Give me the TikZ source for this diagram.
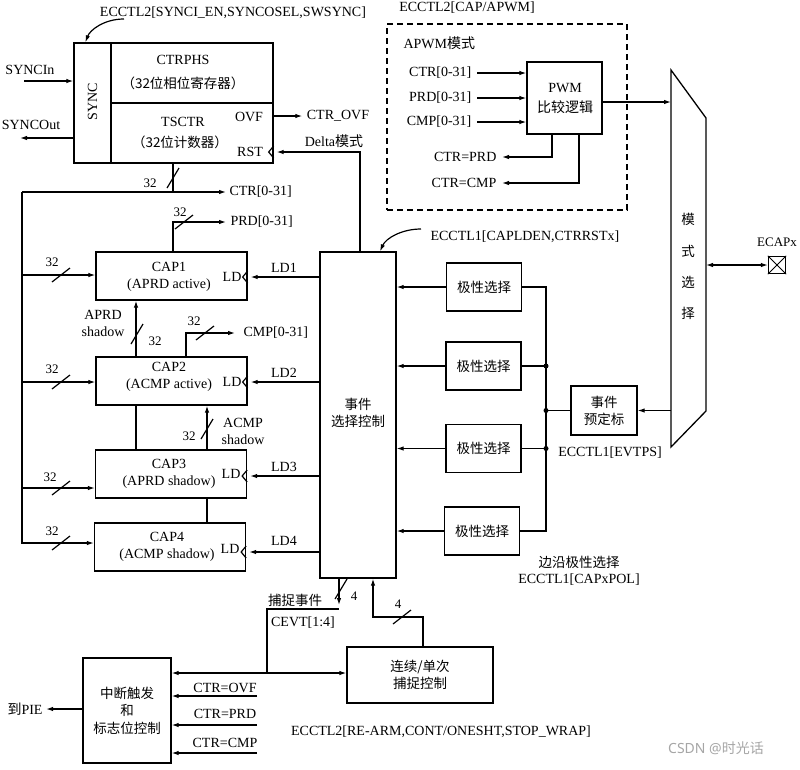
\documentclass[tikz,border=0pt]{standalone}
\usepackage{fontspec}
\setmainfont{Liberation Serif}
\newfontfamily\cjk{Noto Sans CJK SC}
\newfontfamily\wmfont{Noto Sans}
\usetikzlibrary{arrows.meta}
\newcommand{\zh}[1]{{\cjk #1}}
\newcommand{\hsl}[1]{\draw (#1) ++(-9,7) -- ++(18,-14);}
\newcommand{\vsl}[1]{\draw (#1) ++(-6,10) -- ++(12,-20);}
\newcommand{\notch}[1]{\draw (#1) ++(0,-6) -- ++(-5,6) -- ++(5,6);}
\begin{document}
\begin{tikzpicture}[x=1pt,y=-1pt, line width=1.2pt,
  box/.style={draw, inner sep=0pt, line width=1.3pt},
  lbl/.style={inner sep=0pt, font=\fontsize{14}{17}\selectfont, align=center},
  zhl/.style={inner sep=0pt, font=\cjk\fontsize{13.5}{17}\selectfont, align=center},
  num/.style={inner sep=0pt, font=\fontsize{13}{15}\selectfont},
  arr/.style={-{Latex[length=7pt,width=4.5pt]}},
  dot/.style={circle, fill, inner sep=0pt, minimum size=5pt}]
\useasboundingbox (0,0) rectangle (800,769);

% ---------------- SYNC / counter block
\node[box, minimum width=37pt, minimum height=120pt] (sync) at (92.5,103) {};
\node[lbl, rotate=90] (synct) at (92.5,102) {SYNC};
\node[box, minimum width=162pt, minimum height=60pt] (ctrphs) at (192,73) {};
\node[lbl] (ctrphst) at (183,60) {CTRPHS};
\node[zhl] (ctrphsz) at (183,83) {（32位相位寄存器）};
\node[box, minimum width=162pt, minimum height=60pt] (tsctr) at (192,133) {};
\node[lbl] (tsctrt) at (183,122) {TSCTR};
\node[zhl] (tsctrz) at (180,142) {（32位计数器）};
\node[lbl] (ovf) at (249,117) {OVF};
\node[lbl] (rst) at (250,152) {RST};
\notch{tsctr.east |- rst}

\node[lbl] (syncin) at (30,70) {SYNCIn};
\coordinate (sinS) at (24,81);
\draw[arr] (sinS) -- (sinS -| sync.west);
\node[lbl] (syncout) at (31,125) {SYNCOut};
\coordinate (soutE) at (20,138);
\draw[arr] (soutE -| sync.west) -- (soutE);

\node[lbl] (ec2s) at (233,13) {ECCTL2[SYNCI\_EN,SYNCOSEL,SWSYNC]};
\coordinate (ec2sA) at (124,19);
\draw[arr] (ec2sA) .. controls (104,19) and (90,30) .. ([xshift=12pt]sync.north west);

\node[lbl] (ctrovf) at (338,116) {CTR\_OVF};
\draw[arr] (tsctr.east |- ctrovf.west) -- ([xshift=-4pt]ctrovf.west);
\node[lbl] (delta) at (334,141) {Delta\zh{模式}};

% ---------------- CAP registers
\node[box, minimum width=151pt, minimum height=48pt] (cap1) at (171.5,276) {};
\node[box, minimum width=151pt, minimum height=48pt] (cap2) at (171.5,381) {};
\node[box, minimum width=151pt, minimum height=48pt] (cap3) at (171,474) {};
\node[box, minimum width=151pt, minimum height=48pt] (cap4) at (170,547) {};
\node[lbl] (cap1t) at (169,276.5) {CAP1\\(APRD active)};
\node[lbl] (cap2t) at (169,376.5) {CAP2\\(ACMP active)};
\node[lbl] (cap3t) at (169,474) {CAP3\\(APRD shadow)};
\node[lbl] (cap4t) at (167,547) {CAP4\\(ACMP shadow)};
\node[lbl, anchor=east] (ld1t) at (242,277) {LD};
\node[lbl, anchor=east] (ld2t) at (242,382) {LD};
\node[lbl, anchor=east] (ld3t) at (241,474) {LD};
\node[lbl, anchor=east] (ld4t) at (240,549) {LD};
\notch{cap1.east |- 0,277}
\notch{cap2.east |- 0,382}
\notch{cap3.east |- 0,476}
\notch{cap4.east |- 0,552}

% ---------------- event select
\node[box, minimum width=76pt, minimum height=326pt] (evt) at (358,415) {};
\node[zhl] (evtt) at (358,413) {事件\\选择控制};

\node[lbl] (ld1) at (284,268) {LD1};
\node[lbl] (ld2) at (284,373) {LD2};
\node[lbl] (ld3) at (284,467) {LD3};
\node[lbl] (ld4) at (284,541) {LD4};
\draw[arr] (evt.west |- 0,277) -- ([xshift=3pt]cap1.east |- 0,277);
\draw[arr] (evt.west |- 0,382) -- ([xshift=3pt]cap2.east |- 0,382);
\draw[arr] (evt.west |- 0,476) -- ([xshift=3pt]cap3.east |- 0,476);
\draw[arr] (evt.west |- 0,552) -- ([xshift=3pt]cap4.east |- 0,552);

\node[lbl, anchor=west] (ec1ld) at (430,237) {ECCTL1[CAPLDEN,CTRRSTx]};
\coordinate (ec1A) at (421,229);
\draw[arr] (ec1A) .. controls (402,229) and (386,238) .. ([xshift=22pt]evt.north);

% RST / Delta line
\coordinate (dl) at (360,152);
\draw[arr] (dl |- evt.north) -- (dl) -- ([xshift=3pt]tsctr.east |- dl);

% CTR bus
\coordinate (ctrtap) at (173,192);
\coordinate (lbus) at (22,192);
\draw (ctrtap |- tsctr.south) -- (ctrtap);
\node[lbl, anchor=west] (ctr031) at (229,192) {CTR[0-31]};
\draw[arr] (lbus) -- ([xshift=-3pt]ctr031.west);
\vsl{173,178}
\node[num] (n32a) at (150,183) {32};

% left bus
\coordinate (b1) at (22,275);
\coordinate (b2) at (22,382);
\coordinate (b3) at (22,488);
\coordinate (b4) at (22,543);
\draw[arr] (lbus) -- (b4) -- (b4 -| cap4.west);
\draw[arr] (b1) -- (b1 -| cap1.west);
\draw[arr] (b2) -- (b2 -| cap2.west);
\draw[arr] (b3) -- (b3 -| cap3.west);
\hsl{61,275} \hsl{61,382} \hsl{61,488} \hsl{61,543}
\node[num] (n32b) at (52,262) {32};
\node[num] (n32c) at (52,369) {32};
\node[num] (n32d) at (50,477) {32};
\node[num] (n32e) at (52,531) {32};

% PRD out
\coordinate (prdc) at (173,222);
\node[lbl, anchor=west] (prd031) at (230,222) {PRD[0-31]};
\draw[arr] (prdc |- cap1.north) -- (prdc) -- ([xshift=-4pt]prd031.west);
\hsl{184,222}
\node[num] (n32f) at (180,212) {32};

% CMP out
\coordinate (cmpc) at (186,333);
\node[lbl, anchor=west] (cmp031) at (243,333) {CMP[0-31]};
\draw[arr] (cmpc |- cap2.north) -- (cmpc) -- ([xshift=-8pt]cmp031.west);
\hsl{205,333}
\node[num] (n32g) at (194,321) {32};

% APRD shadow
\coordinate (ashx) at (136,0);
\draw[arr] (ashx |- cap2.north) -- (ashx |- cap1.south);
\draw (ashx |- cap2.south) -- (ashx |- cap3.north);
\vsl{137,334}
\node[num] (n32h) at (155,341) {32};
\node[lbl] (aprdsh) at (103,323) {APRD\\shadow};

% ACMP shadow
\coordinate (acsx) at (207,0);
\draw[arr] (acsx |- cap3.north) -- (acsx |- cap2.south);
\draw (acsx |- cap3.south) -- (acsx |- cap4.north);
\vsl{207,429}
\node[num] (n32i) at (189,436) {32};
\node[lbl] (acmpsh) at (243,431) {ACMP\\shadow};

% ---------------- polarity select
\node[box, zhl, minimum width=75pt, minimum height=48pt] (pol1) at (484,287) {极性选择};
\node[box, zhl, minimum width=75pt, minimum height=48pt] (pol2) at (483.5,366) {极性选择};
\node[box, zhl, minimum width=75pt, minimum height=48pt] (pol3) at (483.5,448.5) {极性选择};
\node[box, zhl, minimum width=75pt, minimum height=48pt] (pol4) at (482,531) {极性选择};
\draw[arr] (pol1.west) -- (pol1.west -| evt.east);
\draw[arr] (pol2.west) -- (pol2.west -| evt.east);
\draw[arr] (pol3.west) -- (pol3.west -| evt.east);
\draw[arr] (pol4.west) -- (pol4.west -| evt.east);
\coordinate (rb) at (546,0);
\draw (pol1.east) -- (pol1.east -| rb) -- (pol4.east -| rb) -- (pol4.east);
\draw (pol2.east) -- (pol2.east -| rb) node[dot] (d2) {};
\draw (pol3.east) -- (pol3.east -| rb) node[dot] (d3) {};
\node[zhl] (edgesel) at (579,562) {边沿极性选择};
\node[lbl] (ec1pol) at (579,580) {ECCTL1[CAPxPOL]};

% ---------------- prescaler
\node[box, zhl, minimum width=66pt, minimum height=49pt] (pre) at (604,410.5) {事件\\预定标};
\draw (pre.west -| rb) node[dot] (d1) {} -- (pre.west);
\node[lbl] (ec1evt) at (610,453) {ECCTL1[EVTPS]};

% ---------------- mode select
\coordinate (ms1) at (671,70);
\coordinate (ms2) at (706,118);
\coordinate (ms3) at (706,411);
\coordinate (ms4) at (671,447);
\draw[line width=1.3pt, line join=miter] (ms1) -- (ms2) -- (ms3) -- (ms4) -- cycle;
\node[zhl] (mst1) at (688,219) {模};
\node[zhl] (mst2) at (688,251) {式};
\node[zhl] (mst3) at (688,282) {选};
\node[zhl] (mst4) at (688,313) {择};
\draw[arr] (ms4 |- pre.east) -- (pre.east);

\node[draw, minimum size=17pt, inner sep=0pt, line width=1.3pt] (pin) at (777,265) {};
\draw[line width=0.9pt] (pin.north west) -- (pin.south east) (pin.north east) -- (pin.south west);
\draw[{Latex[length=7pt,width=4.5pt]}-{Latex[length=7pt,width=4.5pt]}] (ms2 |- pin.west) -- (pin.west);
\node[lbl, font=\fontsize{13}{15}\selectfont] (ecapx) at (777,242) {ECAPx};

% ---------------- APWM
\node[draw, dashed, dash pattern=on 6pt off 4pt, line width=1.3pt, minimum width=240pt, minimum height=186pt, inner sep=0pt] (apwmbox) at (507,117) {};
\node[lbl, anchor=west] (apwmt) at (403,43) {APWM\zh{模式}};
\node[lbl] (ec2cap) at (467,8) {ECCTL2[CAP/APWM]};
\node[box, minimum width=75pt, minimum height=72pt] (pwm) at (564.5,98) {};
\node[lbl, font=\fontsize{14}{20}\selectfont] (pwmt) at (565,98) {PWM\\\zh{比较逻辑}};
\node[lbl, anchor=east] (ictr) at (472,73) {CTR[0-31]};
\node[lbl, anchor=east] (iprd) at (472,98) {PRD[0-31]};
\node[lbl, anchor=east] (icmp) at (472,122) {CMP[0-31]};
\draw[arr] ([xshift=5pt]ictr.east) -- (pwm.west |- ictr.east);
\draw[arr] ([xshift=5pt]iprd.east) -- (pwm.west |- iprd.east);
\draw[arr] ([xshift=5pt]icmp.east) -- (pwm.west |- icmp.east);
\node[lbl, anchor=east] (oprd) at (497,157) {CTR=PRD};
\node[lbl, anchor=east] (ocmp) at (497,183) {CTR=CMP};
\coordinate (po1) at (552,0);
\coordinate (po2) at (579,0);
\draw[arr] (po1 |- pwm.south) -- (po1 |- oprd.east) -- ([xshift=5pt]oprd.east);
\draw[arr] (po2 |- pwm.south) -- (po2 |- ocmp.east) -- ([xshift=5pt]ocmp.east);
\coordinate (pwmo) at (602,102);
\draw[arr] (pwmo) -- (pwmo -| ms1);

% ---------------- bottom
\node[box, zhl, minimum width=146pt, minimum height=56pt] (cont) at (420,675) {连续/单次\\捕捉控制};
\node[box, zhl, font=\cjk\fontsize{13.5}{17.5}\selectfont, minimum width=88pt, minimum height=105pt] (intr) at (127,710.5) {中断触发\\和\\标志位控制};

\coordinate (ce) at (339,609);
\coordinate (vl) at (267,609);
\coordinate (hj) at (267,673);
\draw[arr] (evt.south -| ce) -- ([yshift=4pt]ce);
\draw (ce) -- (vl) -- (hj);
\draw[arr] (hj) -- (intr.east |- hj);
\draw[arr] (hj) -- (cont.west |- hj);
\vsl{341,589}
\node[num] (n4a) at (354,596) {4};
\node[zhl] (capev) at (295,600) {捕捉事件};
\node[lbl] (cevt) at (303,623) {CEVT[1:4]};

\coordinate (cr) at (423,617);
\coordinate (cu) at (373,617);
\draw[arr] (cr |- cont.north) -- (cr) -- (cu) -- (cu |- evt.south);
\hsl{402,617}
\node[num] (n4b) at (398,604) {4};
\node[lbl] (ec2b) at (441,732) {ECCTL2[RE-ARM,CONT/ONESHT,STOP\_WRAP]};

\node[lbl] (pie) at (25,709) {\zh{到}PIE};
\draw[arr] (intr.west |- pie) -- ([xshift=3pt]pie.east);
\node[lbl] (covf) at (225,688) {CTR=OVF};
\node[lbl] (cprd) at (225,714) {CTR=PRD};
\node[lbl] (ccmp) at (225,743) {CTR=CMP};
\coordinate (c1) at (257,696);
\coordinate (c2) at (257,725);
\coordinate (c3) at (257,753);
\draw[arr] (c1) -- (c1 -| intr.east);
\draw[arr] (c2) -- (c2 -| intr.east);
\draw[arr] (c3) -- (c3 -| intr.east);

\node[inner sep=0pt, text=gray!70, font=\wmfont\fontsize{14}{16}\selectfont] (wm) at (716,748) {CSDN @\zh{时光话}};
\end{tikzpicture}
\end{document}
